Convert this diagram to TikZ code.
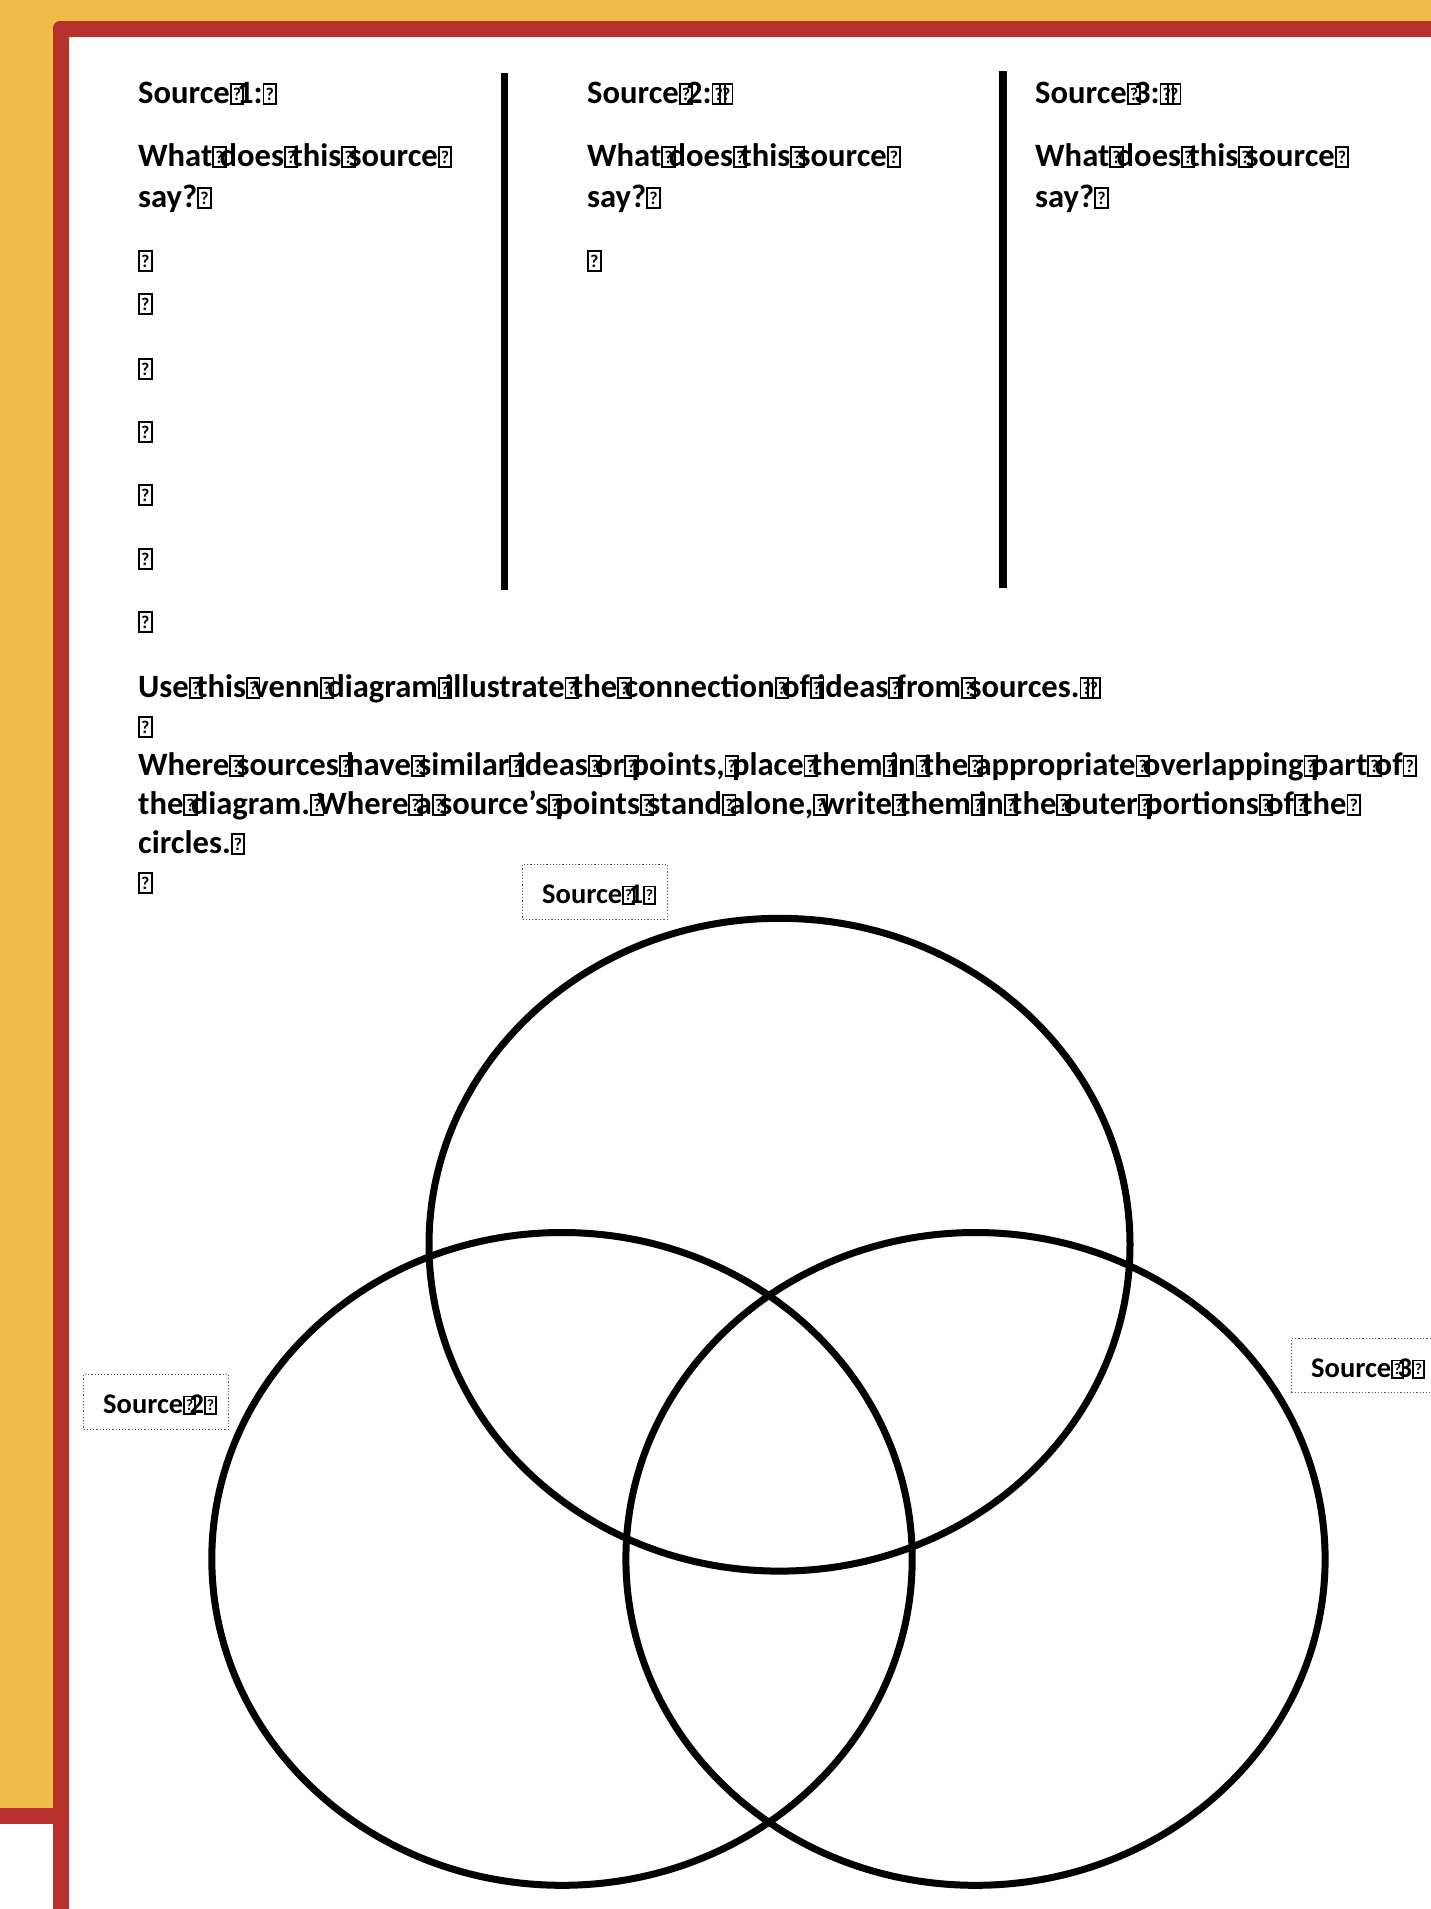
\documentclass[tikz,border=0pt]{standalone}
\usepackage{fontspec}
\setmainfont{Carlito}
\usepackage{graphicx}
\definecolor{bgyellow}{RGB}{239,188,72}
\definecolor{framered}{RGB}{185,48,45}
\newcommand\tofu{\makebox[0.226em][l]{\setlength{\fboxsep}{0pt}\setlength{\fboxrule}{0.055em}\fbox{\parbox[b][0.55em][c]{0.33em}{\centering\scalebox{0.55}{?}}}}}
\tikzset{
  bigtxt/.style={anchor=base west, inner sep=0pt, font=\fontsize{32.6}{39.8}\selectfont\bfseries},
  smalltxt/.style={anchor=base west, inner sep=0pt, font=\fontsize{28.5}{34}\selectfont\bfseries},
  lblbox/.style={draw=black!65, dotted, line width=1.2pt, inner sep=0pt, anchor=north west},
  venn/.style={line width=7pt, draw=black},
  colrule/.style={line width=7.6pt, draw=black}
}
\begin{document}
\begin{tikzpicture}[x=1pt,y=-1pt]
\useasboundingbox (0,0) rectangle (1431,1909);
\clip (0,0) rectangle (1431,1909);
% background and frame
\fill[white] (0,0) rectangle (1431,1909);
\fill[bgyellow] (0,0) rectangle (1431,1808);
\fill[framered, rounded corners=7pt] (53,21) rectangle (1460,1940);
\fill[white] (69,37) rectangle (1460,1940);
\fill[framered] (0,1808) rectangle (53,1824);

% column separators
\coordinate (r1t) at (504.5,73);
\coordinate (r1b) at (504.5,590);
\coordinate (r2t) at (1003,71);
\coordinate (r2b) at (1003,588);
\draw[colrule] (r1t) -- (r1b);
\draw[colrule] (r2t) -- (r2b);

% column 1
\node[bigtxt] (s1) at (138,103) {Source\tofu 1:\tofu};
\node[bigtxt] (q1a) at (138,166) {What\tofu does\tofu this\tofu source\tofu};
\node[bigtxt] (q1b) at (138,207) {say?\tofu};
\node[bigtxt] (e1) at (138,270) {\tofu};
\node[bigtxt] (e2) at (138,313) {\tofu};
\node[bigtxt] (e3) at (138,378) {\tofu};
\node[bigtxt] (e4) at (138,441) {\tofu};
\node[bigtxt] (e5) at (138,504) {\tofu};
\node[bigtxt] (e6) at (138,568) {\tofu};
\node[bigtxt] (e7) at (138,631) {\tofu};

% column 2
\node[bigtxt] (s2) at (587,103) {Source\tofu 2:\tofu\tofu};
\node[bigtxt] (q2a) at (587,166) {What\tofu does\tofu this\tofu source\tofu};
\node[bigtxt] (q2b) at (587,207) {say?\tofu};
\node[bigtxt] (f1) at (587,270) {\tofu};

% column 3
\node[bigtxt] (s3) at (1035,103) {Source\tofu 3:\tofu\tofu};
\node[bigtxt] (q3a) at (1035,166) {What\tofu does\tofu this\tofu source\tofu};
\node[bigtxt] (q3b) at (1035,207) {say?\tofu};

% instructions
\node[bigtxt] (i1) at (138,697) {Use\tofu this\tofu venn\tofu diagram\tofu illustrate\tofu the\tofu connection\tofu of\tofu ideas\tofu from\tofu sources.\tofu\tofu};
\node[bigtxt] (i2) at (138,736) {\tofu};
\node[bigtxt] (i3) at (138,775) {Where\tofu sources\tofu have\tofu similar\tofu ideas\tofu or\tofu points,\tofu place\tofu them\tofu in\tofu the\tofu appropriate\tofu overlapping\tofu part\tofu of\tofu};
\node[bigtxt] (i4) at (138,814) {the\tofu diagram.\tofu Where\tofu a\tofu source’s\tofu points\tofu stand\tofu alone,\tofu write\tofu them\tofu in\tofu the\tofu outer\tofu portions\tofu of\tofu the\tofu};
\node[bigtxt] (i5) at (138,853) {circles.\tofu};
\node[bigtxt] (i6) at (138,892) {\tofu};

% venn diagram
\draw[venn] (779.5,1244.7) ellipse [x radius=350.5, y radius=326.4];
\draw[venn] (562,1558.9) ellipse [x radius=350.2, y radius=326.4];
\draw[venn] (975.5,1558.9) ellipse [x radius=349.6, y radius=326.4];

% labels
\node[lblbox, minimum width=145pt, minimum height=55pt] (b1) at (522,864) {};
\node[smalltxt] (l1) at (542,903) {Source\tofu 1\tofu};
\node[lblbox, minimum width=145pt, minimum height=55pt] (b2) at (83,1374) {};
\node[smalltxt] (l2) at (103,1413) {Source\tofu 2\tofu};
\node[lblbox, minimum width=145pt, minimum height=54pt] (b3) at (1291,1338) {};
\node[smalltxt] (l3) at (1311,1377) {Source\tofu 3\tofu};
\end{tikzpicture}
\end{document}
